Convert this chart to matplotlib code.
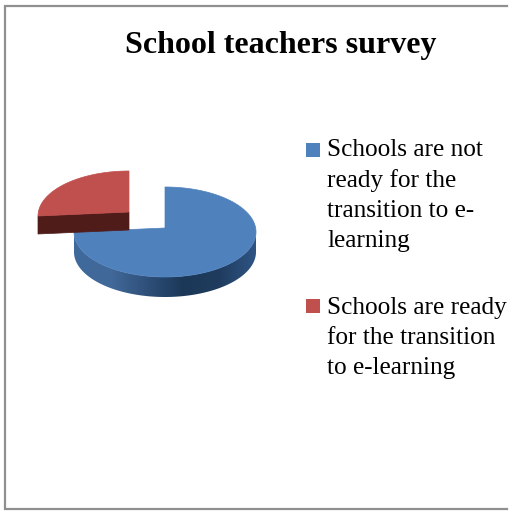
import numpy as np
import matplotlib.pyplot as plt
from matplotlib.patches import Polygon, Rectangle
from matplotlib.colors import LinearSegmentedColormap

title = "School teachers survey"
labels = ["Schools are not\nready for the\ntransition to e-\nlearning",
          "Schools are ready\nfor the transition\nto e-learning"]
values = [75, 25]
colors = ["#4f81bd", "#c0504d"]

W, H = 524, 517
fig = plt.figure(figsize=(W / 100, H / 100), dpi=100)
ax = fig.add_axes([0, 0, 1, 1])
ax.axis("off")

rx, ry, depth = 91, 45, 20
center = np.array([165.0, 232.0])
apex_shift = -4
explode = np.array([-36.0, -16.0])


def arc(c, a0, a1, n=200):
    # angles clockwise from 12 o'clock
    t = np.radians(np.linspace(a0, a1, n))
    return np.column_stack([c[0] + rx * np.sin(t), c[1] - ry * np.cos(t)])


def wedge(c, a0, a1):
    apex = c + [0, apex_shift]
    return np.vstack([apex, arc(c, a0, a1)])


angles = np.cumsum([0] + values) / sum(values) * 360

# blue slice: rim with a shaded gradient, then top
side_cmap = LinearSegmentedColormap.from_list(
    "side", ["#2f5585", "#1f3c5e", "#1c3858", "#2f507a", "#41699a", "#3f6a9c"])
rim = arc(center, 90, angles[1])
rim = rim[np.argsort(rim[:, 0])]
side = np.vstack([rim, (rim + [0, depth])[::-1]])
grad = np.linspace(1, 0, 256).reshape(1, -1)
img = ax.imshow(grad, extent=[center[0] - rx, center[0] + rx, H, 0], cmap=side_cmap,
                aspect="auto", zorder=1)
clip = Polygon(side, closed=True, transform=ax.transData, fc="none", ec="none")
ax.add_patch(clip)
img.set_clip_path(clip)
ax.set_xlim(0, W)
ax.set_ylim(H, 0)
ax.add_patch(Polygon(wedge(center, angles[0], angles[1]), closed=True,
                     fc=colors[0], ec=colors[0], lw=0.5, zorder=2))

# red slice, pulled out of the pie
c2 = center + explode
apex2 = c2 + [0, apex_shift]
left2 = arc(c2, angles[1], angles[1], 1)[0]
cut = np.array([left2, apex2, apex2 + [0, 18], left2 + [0, 18]])
ax.add_patch(Polygon(cut, closed=True, fc="#4f1c1a", ec="#4f1c1a", lw=0.5, zorder=3))
ax.add_patch(Polygon(wedge(c2, angles[1], angles[2]), closed=True,
                     fc=colors[1], ec=colors[1], lw=0.5, zorder=4))

# frame: open on the right
ax.plot([507, 5, 5, 507], [6, 6, 509, 509], color="#8f8f8f", lw=1.6, zorder=5,
        solid_joinstyle="miter")

font = "Liberation Serif"
ax.text(281, 46, title, family=font, weight="bold", fontsize=23,
        ha="center", va="center", color="black")

square_y = [143, 299]
text_y = [139, 297]
for lab, col, sy, ty in zip(labels, colors, square_y, text_y):
    ax.add_patch(Rectangle((306, sy), 14, 14, fc=col, ec="none"))
    ax.text(327, ty, lab, family=font, fontsize=18.2, va="top", ha="left",
            linespacing=1.47, color="black")

fig.savefig("out.png", dpi=100)
